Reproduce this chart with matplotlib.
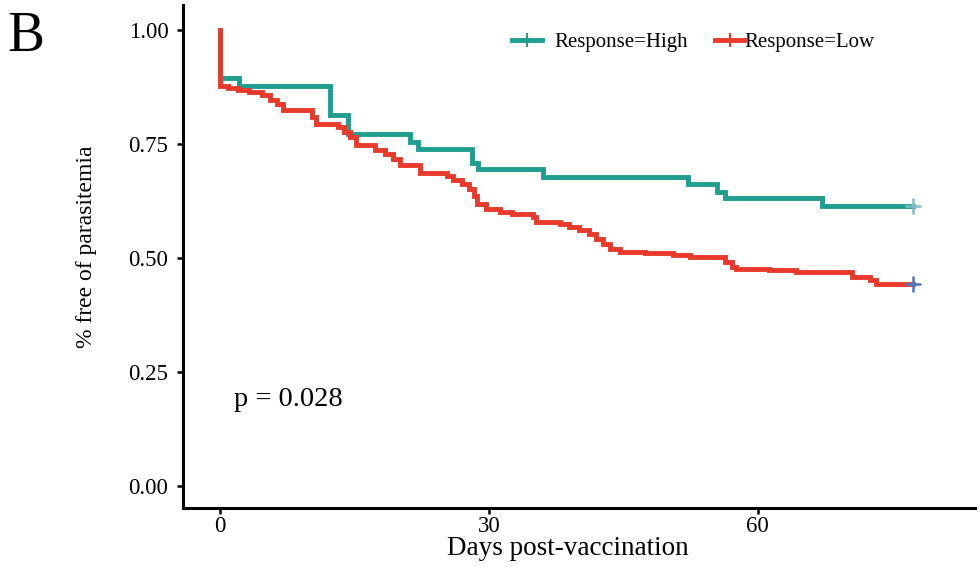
import matplotlib
matplotlib.use("Agg")
import matplotlib.pyplot as plt
from matplotlib.lines import Line2D

# --- data ---
high_time = [0, 0, 2.2, 12.3, 14.3, 21.2, 22.1, 28.1, 28.8, 36.0, 52.2, 55.5, 56.3, 67.2, 77.3]
high_surv = [1.0, 0.895, 0.877, 0.814, 0.772, 0.754, 0.739, 0.708, 0.695, 0.678, 0.662, 0.645, 0.632, 0.615, 0.615]

low_time = [0, 0, 0.9, 2.0, 3.3, 4.7, 5.6, 6.4, 7.0, 10.3, 10.7, 13.2, 13.9, 14.5, 15.2,
            17.3, 18.4, 19.3, 20.1, 22.3, 25.3, 26.0, 27.0, 27.8, 28.3, 28.7, 29.7,
            31.2, 32.6, 34.9, 35.3, 37.9, 39.0, 40.1, 41.2, 42.0, 42.7, 43.5, 44.6,
            47.4, 50.5, 52.4, 56.3, 57.1, 57.6, 61.3, 64.3, 70.5, 72.5, 73.2, 77.3]
low_surv = [1.0, 0.877, 0.873, 0.868, 0.864, 0.857, 0.846, 0.838, 0.825, 0.809, 0.794,
            0.787, 0.776, 0.765, 0.748, 0.737, 0.728, 0.717, 0.704, 0.686, 0.680, 0.671,
            0.662, 0.651, 0.636, 0.618, 0.607, 0.601, 0.596, 0.590, 0.579, 0.575, 0.568,
            0.561, 0.553, 0.542, 0.531, 0.520, 0.513, 0.511, 0.507, 0.502, 0.491, 0.480,
            0.476, 0.474, 0.469, 0.458, 0.452, 0.443, 0.443]

x_ticks = [0, 30, 60]
y_ticks = [0.00, 0.25, 0.50, 0.75, 1.00]
y_tick_labels = ["0.00", "0.25", "0.50", "0.75", "1.00"]
labels = ["Response=High", "Response=Low"]
p_text = "p = 0.028"

teal = "#1f9e90"
red = "#e8392b"

plt.rcParams['font.family'] = ['Liberation Serif', 'DejaVu Serif']

fig = plt.figure(figsize=(9.8, 5.67), dpi=100)
ax = fig.add_axes([0.1867, 0.104, 0.808, 0.887])

ax.step(high_time, high_surv, where='post', color=teal, lw=3.5, solid_joinstyle='miter')
ax.step(low_time, low_surv, where='post', color=red, lw=3.5, solid_joinstyle='miter')
ax.plot([high_time[-1]], [high_surv[-1]], marker='+', ms=11, mew=1.8, color="#7fbccb", ls='none')
ax.plot([low_time[-1]], [low_surv[-1]], marker='+', ms=11, mew=1.8, color="#4a78c0", ls='none')

ax.set_xlim(-4.1, 84.2)
ax.set_ylim(-0.048, 1.055)
ax.set_xticks(x_ticks)
ax.set_yticks(y_ticks)
ax.set_yticklabels(y_tick_labels)
for s in ['top', 'right']:
    ax.spines[s].set_visible(False)
for s in ['left', 'bottom']:
    ax.spines[s].set_linewidth(2.2)
ax.tick_params(axis='both', direction='out', length=4, width=1.8, labelsize=16.5)
ax.tick_params(axis='x', pad=2)
ax.tick_params(axis='y', pad=6.5)
ax.set_xlabel("Days post-vaccination", fontsize=19.5)
ax.set_ylabel("% free of parasitemia", fontsize=17)
ax.xaxis.set_label_coords(0.486, -0.056)
ax.yaxis.set_label_coords(-0.109, 0.52)

ax.text(1.6, 0.19, p_text, fontsize=20.5, ha='left', va='center', transform=ax.transData)

h_high = Line2D([0], [0], color=teal, lw=3.5, marker='+', ms=10, mew=1.5)
h_low = Line2D([0], [0], color=red, lw=3.5, marker='+', ms=10, mew=1.5)
leg1 = ax.legend([h_high], [labels[0]], loc='center left', bbox_to_anchor=(0.415, 0.926),
                 frameon=False, fontsize=15, handlelength=1.45, handletextpad=0.6,
                 borderpad=0, borderaxespad=0)
ax.add_artist(leg1)
ax.legend([h_low], [labels[1]], loc='center left', bbox_to_anchor=(0.672, 0.926),
          frameon=False, fontsize=15, handlelength=1.4, handletextpad=0.0,
          borderpad=0, borderaxespad=0)

fig.text(0.008, 0.935, "B", fontsize=40, ha='left', va='center')

fig.savefig("out.png", dpi=100)
